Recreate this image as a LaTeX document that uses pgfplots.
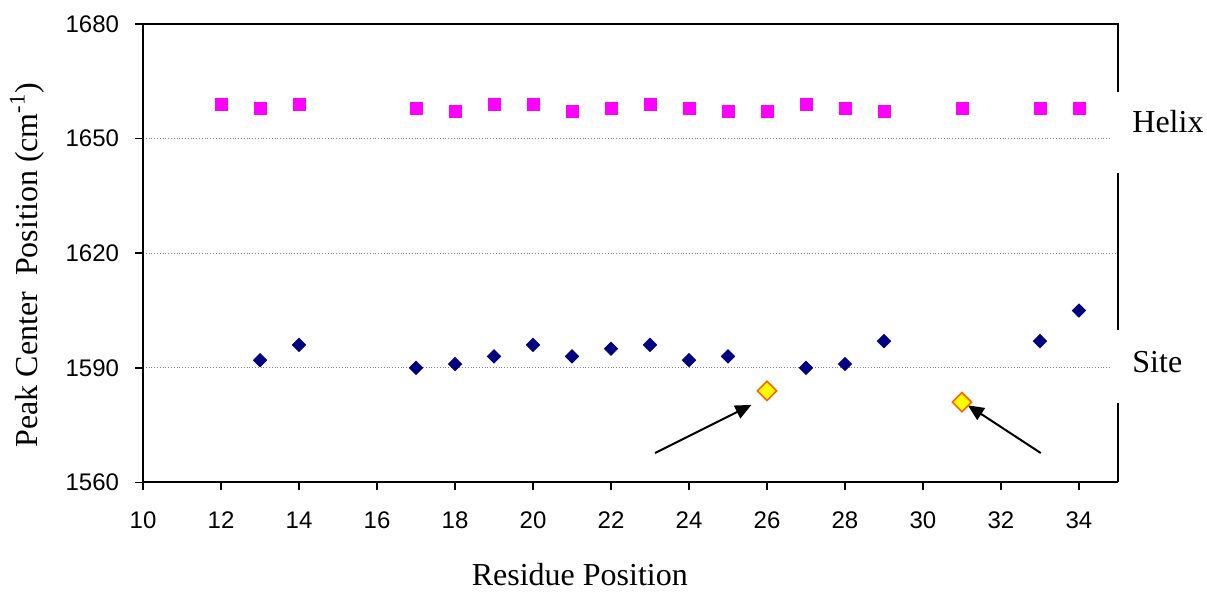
\documentclass[border=0pt]{standalone}
\usepackage{pgfplots}
\pgfplotsset{compat=1.18}
\usepackage{fontspec}
\setmainfont{Liberation Serif}
\newfontfamily\arial{Liberation Sans}
\usetikzlibrary{arrows.meta}

\definecolor{helix}{HTML}{FF00FF}
\definecolor{site}{HTML}{000080}
\definecolor{mutfill}{HTML}{FFFF00}
\definecolor{mutedge}{HTML}{FF6600}

\begin{document}
\begin{tikzpicture}
\begin{axis}[
  scale only axis,
  width=487.5pt, height=229.25pt,
  xmin=10, xmax=35, ymin=1560, ymax=1680,
  xtick={10,12,...,34}, ytick={1560,1590,...,1680},
  axis x line*=bottom, axis y line*=left,
  axis line style={-, line width=1pt},
  tick align=outside, major tick length=4pt,
  tick style={black, line width=0.8pt},
  ymajorgrids, grid style={densely dotted, gray, line width=0.5pt},
  /pgf/number format/assume math mode=true,
  /pgf/number format/set thousands separator={},
  ticklabel style={font=\arial\fontsize{12}{14}\selectfont},
  xticklabel style={yshift=-7pt},
  yticklabel style={xshift=-4.5pt},
  label style={font=\fontsize{16}{19}\selectfont},
  xlabel={Residue Position},
  xlabel style={at={(axis description cs:0.448,0)}, anchor=center, yshift=-46pt},
  ylabel={Peak Center\ \ Position (cm\textsuperscript{-1})},
  ylabel style={at={(axis description cs:-0.119,0.474)}, anchor=center},
  clip=false,
]
% helix band
\addplot[only marks, mark=square*, mark size=3pt, color=helix] coordinates {
  (12,1659) (13,1658) (14,1659) (17,1658) (18,1657) (19,1659) (20,1659)
  (21,1657) (22,1658) (23,1659) (24,1658) (25,1657) (26,1657) (27,1659)
  (28,1658) (29,1657) (31,1658) (33,1658) (34,1658)
};
% site band
\addplot[only marks, mark=square*, mark size=2.35pt, color=site, mark options={rotate=45}] coordinates {
  (13,1592) (14,1596) (17,1590) (18,1591) (19,1593) (20,1596) (21,1593)
  (22,1595) (23,1596) (24,1592) (25,1593) (27,1590) (28,1591) (29,1597)
  (33,1597) (34,1605)
};
% shifted residues
\addplot[only marks, mark=square*, mark size=3.4pt,
  mark options={rotate=45, fill=mutfill, draw=mutedge, line width=0.8pt}] coordinates {
  (26,1584) (31,1581)
};

\draw[line width=1pt, -{Triangle[length=8pt,width=7pt]}] (axis cs:23.13,1567.7) -- (axis cs:25.6,1580.3);
\draw[line width=1pt, -{Triangle[length=8pt,width=7pt]}] (axis cs:33.02,1567.7) -- (axis cs:31.15,1580.2);

% cut the grid before the labels, then the broken right frame
\fill[white] (axis cs:34.85,1648) rectangle (axis cs:35.5,1652);
\fill[white] (axis cs:34.85,1588) rectangle (axis cs:35.5,1592);
\draw[line width=0.8pt] (axis cs:10,1680) -- (axis cs:35,1680) -- (axis cs:35,1662.2);
\draw[line width=0.8pt] (axis cs:35,1641) -- (axis cs:35,1599.8);
\draw[line width=0.8pt] (axis cs:35,1580.7) -- (axis cs:35,1560);

\node[anchor=west, inner sep=0pt, font=\fontsize{16}{19}\selectfont] at (axis cs:35.36,1654.4) {Helix};
\node[anchor=west, inner sep=0pt, font=\fontsize{16}{19}\selectfont] at (axis cs:35.36,1591.5) {Site};

\coordinate (bl) at (rel axis cs:-0.1467,-0.2301);
\coordinate (tr) at (rel axis cs:1.0913,1.0523);
\end{axis}
\useasboundingbox (bl) rectangle (tr);
\end{tikzpicture}
\end{document}
